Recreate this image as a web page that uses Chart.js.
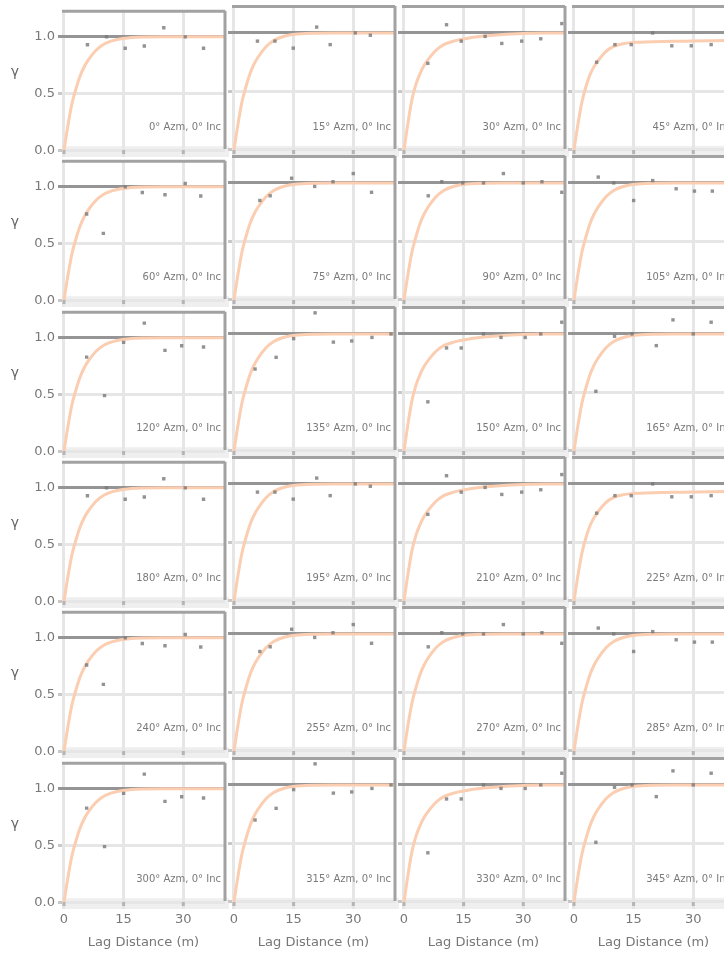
<!DOCTYPE html>
<html>
<head>
<meta charset="utf-8">
<script src="https://cdn.jsdelivr.net/npm/chart.js@4.4.0/dist/chart.umd.min.js"></script>
<style>
  html, body { margin: 0; padding: 0; background: #fff; }
  #grid { position: relative; width: 724px; height: 954px; overflow: hidden; }
  #grid canvas { position: absolute; }
</style>
</head>
<body>
<div id="grid"></div>
<script>
// 24 directional variograms, inclination always 0
var azimuths = [0, 15, 30, 45, 60, 75, 90, 105, 120, 135, 150, 165,
                180, 195, 210, 225, 240, 255, 270, 285, 300, 315, 330, 345];
var xTicks = [0, 15, 30];
var yTicks = [0, 0.5, 1];

// experimental points (lag m, gamma), 0-165 deg; 180-345 are the same directions
var lag_000 = [5.9, 10.7, 15.4, 20.2, 25.1, 30.5, 35.1];
var gam_000 = [0.93, 1.00, 0.90, 0.92, 1.08, 1.00, 0.90];
var lag_015 = [5.9, 10.3, 14.9, 20.8, 24.2, 30.5, 34.3];
var gam_015 = [0.93, 0.93, 0.87, 1.05, 0.90, 1.00, 0.98];
var lag_030 = [6.0, 10.7, 14.4, 20.4, 24.6, 29.6, 34.4, 39.7];
var gam_030 = [0.74, 1.07, 0.93, 0.97, 0.91, 0.93, 0.95, 1.08];
var lag_045 = [5.7, 10.3, 14.4, 19.8, 24.6, 29.5, 34.5];
var gam_045 = [0.75, 0.90, 0.90, 1.00, 0.89, 0.89, 0.90];
var lag_060 = [5.7, 9.9, 15.4, 19.7, 25.4, 30.5, 34.4];
var gam_060 = [0.76, 0.59, 1.00, 0.95, 0.93, 1.03, 0.92];
var lag_075 = [6.5, 9.1, 14.5, 20.3, 24.9, 30.0, 34.6];
var gam_075 = [0.85, 0.89, 1.04, 0.97, 1.01, 1.08, 0.92];
var lag_090 = [6.1, 9.5, 14.8, 20.0, 25.0, 30.0, 34.7, 39.7];
var gam_090 = [0.89, 1.01, 1.00, 1.00, 1.08, 1.00, 1.01, 0.92];
var lag_105 = [6.1, 10.0, 15.0, 19.8, 25.7, 30.3, 34.8];
var gam_105 = [1.05, 1.00, 0.85, 1.02, 0.95, 0.93, 0.93];
var lag_120 = [5.7, 10.2, 15.0, 20.2, 25.4, 29.6, 35.1];
var gam_120 = [0.83, 0.49, 0.96, 1.13, 0.89, 0.93, 0.92];
var lag_135 = [5.3, 10.6, 15.0, 20.4, 25.0, 29.6, 34.7, 39.5];
var gam_135 = [0.70, 0.80, 0.96, 1.18, 0.93, 0.94, 0.97, 1.00];
var lag_150 = [6.0, 10.7, 14.4, 20.0, 24.4, 30.5, 34.4, 39.7];
var gam_150 = [0.42, 0.88, 0.88, 1.00, 0.97, 0.97, 1.00, 1.10];
var lag_165 = [5.5, 10.2, 14.6, 20.7, 24.9, 30.0, 34.5];
var gam_165 = [0.51, 0.98, 1.00, 0.90, 1.12, 1.00, 1.10];

// model curves
var curveLags = [0, 1, 2, 3, 4, 5, 6, 8, 10, 12, 14, 16, 18, 20, 25, 30, 35, 40.5];
var curveFast = [0, 0.22, 0.41, 0.54, 0.65, 0.73, 0.79, 0.88, 0.935, 0.965, 0.982, 0.991, 0.996, 0.998, 1.0, 1.0, 1.0, 1.0];
var curveSlow = [0, 0.23, 0.43, 0.56, 0.65, 0.72, 0.77, 0.85, 0.90, 0.925, 0.943, 0.955, 0.965, 0.973, 0.987, 0.995, 1.0, 1.0];
var curveLow  = [0, 0.22, 0.41, 0.54, 0.64, 0.71, 0.76, 0.84, 0.885, 0.905, 0.915, 0.92, 0.923, 0.925, 0.928, 0.93, 0.933, 0.937];

var pointSets = [[lag_000, gam_000], [lag_015, gam_015], [lag_030, gam_030], [lag_045, gam_045],
                 [lag_060, gam_060], [lag_075, gam_075], [lag_090, gam_090], [lag_105, gam_105],
                 [lag_120, gam_120], [lag_135, gam_135], [lag_150, gam_150], [lag_165, gam_165]];
var curveSets = [curveFast, curveFast, curveSlow, curveLow, curveFast, curveFast,
                 curveFast, curveFast, curveFast, curveFast, curveSlow, curveFast];

// panel geometry
var PLOT_W = 163, PLOT_H = 151;
var PAD_L = 62, PAD_T = 6, PAD_R = 4, PAD_B = 50;
var COL_STEP = 170, ROW_STEP = 150.3;

Chart.defaults.font.family = "'DejaVu Sans', sans-serif";
Chart.defaults.color = '#777';

var panelDecor = {
  id: 'panelDecor',
  beforeDraw: function (chart) {
    var a = chart.chartArea, ctx = chart.ctx;
    var yb = chart.scales.y.getPixelForValue(0.035);
    ctx.save();
    ctx.fillStyle = '#efefef';
    ctx.fillRect(a.left, yb, a.right - a.left + 6, a.bottom - yb);
    ctx.restore();
  },
  afterDraw: function (chart, args, opts) {
    var a = chart.chartArea, ctx = chart.ctx, xs = chart.scales.x;
    ctx.save();
    // little tick marks on the bottom band
    ctx.fillStyle = '#b4b4b4';
    xTicks.forEach(function (v) {
      ctx.fillRect(xs.getPixelForValue(v) - 1.5, a.bottom - 7, 3, 4);
    });
    // top + right frame
    ctx.strokeStyle = '#a2a2a2';
    ctx.lineWidth = 3;
    ctx.beginPath();
    ctx.moveTo(a.left, a.top + 0.5);
    ctx.lineTo(a.right, a.top + 0.5);
    ctx.moveTo(a.right, a.top);
    ctx.lineTo(a.right, a.bottom - 8);
    ctx.stroke();
    // direction label
    ctx.fillStyle = '#7a7a7a';
    ctx.font = "10px 'DejaVu Sans'";
    ctx.textAlign = 'right';
    ctx.textBaseline = 'middle';
    ctx.fillText(opts.label, a.right - 4, a.bottom - 30);
    if (opts.showGamma) {
      ctx.fillStyle = '#666';
      ctx.font = "14px 'DejaVu Sans'";
      ctx.textAlign = 'center';
      ctx.fillText('\u03b3', 15, a.top + 62);
    }
    ctx.restore();
  }
};

var grid = document.getElementById('grid');

azimuths.forEach(function (az, i) {
  var row = Math.floor(i / 4), col = i % 4;
  var k = (az % 180) / 15;
  var lags = pointSets[k][0], gams = pointSets[k][1];
  var curve = curveSets[k];
  var bottomRow = row === 5;

  var canvas = document.createElement('canvas');
  var w = PAD_L + PLOT_W + PAD_R, h = PAD_T + PLOT_H + PAD_B;
  canvas.width = w;
  canvas.height = h;
  canvas.style.width = w + 'px';
  canvas.style.height = h + 'px';
  canvas.style.left = (col * COL_STEP) + 'px';
  canvas.style.top = Math.round(row * ROW_STEP) + 'px';
  grid.appendChild(canvas);

  new Chart(canvas.getContext('2d'), {
    type: 'scatter',
    data: {
      datasets: [{
        type: 'scatter',
        data: lags.map(function (x, j) { return { x: x, y: gams[j] }; }),
        pointStyle: 'rect',
        pointRadius: 2.4,
        backgroundColor: 'rgba(120,120,120,0.8)',
        borderWidth: 0,
        order: 0
      }, {
        type: 'line',
        data: curveLags.map(function (x, j) { return { x: x, y: curve[j] }; }),
        borderColor: '#fbcdb1',
        borderWidth: 3,
        pointRadius: 0,
        cubicInterpolationMode: 'monotone',
        fill: false,
        order: 1
      }]
    },
    options: {
      responsive: false,
      animation: false,
      devicePixelRatio: 1,
      layout: { padding: { left: 0, top: PAD_T, right: PAD_R, bottom: 0 } },
      plugins: {
        legend: { display: false },
        tooltip: { enabled: false },
        panelDecor: { label: az + '\u00b0 Azm, 0\u00b0 Inc', showGamma: col === 0 }
      },
      scales: {
        x: {
          type: 'linear',
          min: -0.5,
          max: 40.5,
          afterBuildTicks: function (s) { s.ticks = xTicks.map(function (v) { return { value: v }; }); },
          afterFit: function (s) { s.height = PAD_B; },
          grid: { color: '#e6e6e6', lineWidth: 3, drawTicks: false },
          border: { display: false },
          ticks: { display: bottomRow, padding: 3, color: '#777', font: { size: 13 } },
          title: {
            display: bottomRow,
            text: 'Lag Distance (m)',
            color: '#777',
            font: { size: 13 },
            padding: { top: 0, bottom: 9 }
          }
        },
        y: {
          type: 'linear',
          min: -0.06,
          max: 1.23,
          afterBuildTicks: function (s) { s.ticks = yTicks.map(function (v) { return { value: v }; }); },
          afterFit: function (s) { s.width = PAD_L; },
          grid: {
            color: function (c) { return c.tick && c.tick.value === 1 ? '#959595' : '#e6e6e6'; },
            tickColor: function (c) { return c.tick && c.tick.value === 1 ? '#959595' : '#c8c8c8'; },
            lineWidth: 3,
            tickLength: 4
          },
          border: { display: false },
          ticks: {
            display: col === 0,
            padding: 3,
            color: '#777',
            font: { size: 13 },
            callback: function (v) { return v.toFixed(1); }
          }
        }
      }
    },
    plugins: [panelDecor]
  });
});
</script>
</body>
</html>
